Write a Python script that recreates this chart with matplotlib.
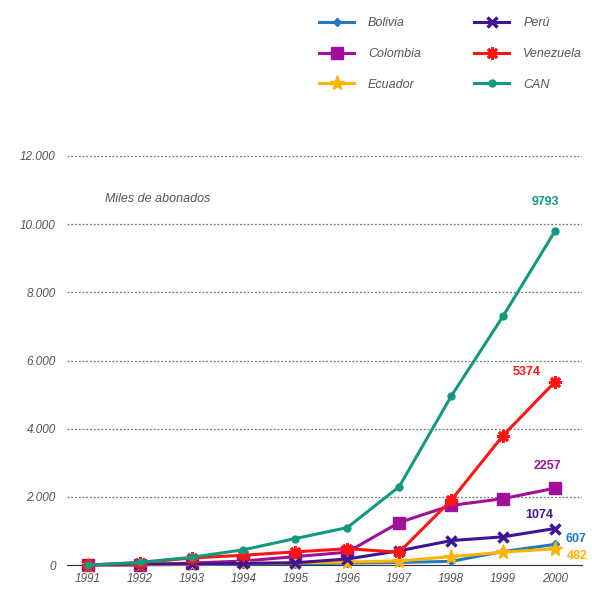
import matplotlib
matplotlib.use("Agg")
import matplotlib.pyplot as plt
from matplotlib.ticker import FuncFormatter

# Miles de abonados, 1991-2000
years = [1991, 1992, 1993, 1994, 1995, 1996, 1997, 1998, 1999, 2000]
bolivia = [5, 10, 20, 30, 45, 60, 80, 110, 400, 607]
colombia = [0, 10, 60, 120, 250, 380, 1250, 1750, 1950, 2257]
ecuador = [10, 20, 30, 50, 70, 90, 120, 250, 380, 482]
peru = [15, 30, 40, 50, 70, 180, 420, 720, 830, 1074]
venezuela = [0, 70, 210, 290, 390, 480, 380, 1900, 3800, 5374]
can = [0, 80, 230, 450, 780, 1100, 2300, 4950, 7300, 9793]

names = ["Bolivia", "Colombia", "Ecuador", "Perú", "Venezuela", "CAN"]
series = [bolivia, colombia, ecuador, peru, venezuela, can]
colors = ["#1f7ac4", "#a0109a", "#ffb400", "#401496", "#ff1414", "#129a80"]
markers = ["D", "s", "*", "x", (8, 2, 0), "o"]
msizes = [4, 8, 11, 7, 9, 5]
mews = [1, 1, 1, 2.5, 2, 1]

fam = ["Liberation Sans", "DejaVu Sans"]
grey = "#555555"

fig = plt.figure(figsize=(5.92, 5.93), dpi=100)
ax = fig.add_axes([0.113, 0.047, 0.87, 0.69])

for vals, nm, c, m, ms, mw in zip(series, names, colors, markers, msizes, mews):
    ax.plot(years, vals, color=c, lw=2.2, marker=m, ms=ms, mew=mw,
            mec=c, mfc=c, label=nm, clip_on=False, zorder=3)

ax.set_xlim(1990.6, 2000.52)
ax.set_ylim(0, 12000)
ax.set_yticks(range(0, 12001, 2000))
ax.yaxis.set_major_formatter(FuncFormatter(lambda v, p: f"{int(v):,}".replace(",", ".")))
ax.set_xticks(years)
ax.grid(axis="y", color="#777777", ls=(0, (1.5, 1.5)), lw=0.9)
ax.set_axisbelow(True)
for s in ["top", "right", "left"]:
    ax.spines[s].set_visible(False)
ax.spines["bottom"].set_color("#333333")
ax.tick_params(axis="y", length=0, pad=8)
ax.tick_params(axis="x", length=0, pad=6)
for lab in ax.get_xticklabels() + ax.get_yticklabels():
    lab.set_family(fam)
    lab.set_style("italic")
    lab.set_color(grey)
    lab.set_fontsize(8.5)

ax.text(1991.33, 10730, "Miles de abonados", family=fam, style="italic",
        color=grey, fontsize=9, va="center")

# valores finales
lbl = dict(fontsize=9, fontweight="bold", ha="center", family=fam)
ax.text(1999.82, 10550, "9793", color=colors[5], **lbl)
ax.text(1999.45, 5580, "5374", color=colors[4], **lbl)
ax.text(1999.85, 2830, "2257", color=colors[1], **lbl)
ax.text(1999.7, 1380, "1074", color=colors[3], **lbl)
ax.text(2000.4, 680, "607", color=colors[0], **lbl)
ax.text(2000.42, 180, "482", color=colors[2], **lbl)

leg = fig.legend(loc="upper left", bbox_to_anchor=(0.52, 0.99), ncol=2,
                 frameon=False, prop={"family": fam, "style": "italic", "size": 9},
                 handlelength=2.8, handletextpad=1.1, columnspacing=4.3,
                 labelspacing=1.5)
for t in leg.get_texts():
    t.set_color(grey)

fig.savefig("out.png", dpi=100)
